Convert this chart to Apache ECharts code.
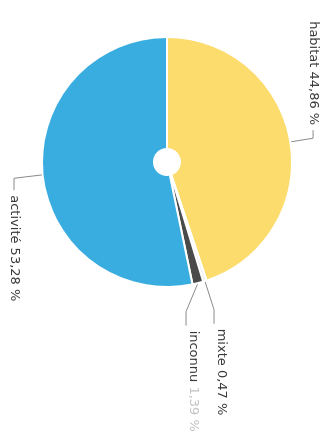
<!DOCTYPE html>
<html>
<head>
<meta charset="utf-8">
<script src="https://cdn.jsdelivr.net/npm/echarts@6/dist/echarts.min.js"></script>
<style>
  html, body { margin: 0; padding: 0; background: #fff; overflow: hidden; width: 334px; height: 442px; }
  /* the chart is laid out landscape and turned a quarter turn clockwise */
  #chart { position: absolute; left: 0; top: 0; width: 442px; height: 334px;
           transform-origin: 0 0; transform: translate(334px, 0) rotate(90deg); }
</style>
</head>
<body>
<div id="chart"></div>
<script>
// Share of floor area by use (%)
const categories = ['habitat', 'mixte', 'inconnu', 'activité'];
const shares = [44.86, 0.47, 1.39, 53.28];

// Styling per slice
const sliceColors = ['#fbdc6c', '#f2f2f2', '#4a4a4a', '#3aade0'];
const lineLengths = [[23, 8], [30, 14], [30, 14], [33, 12]];

const fmt = v => v.toFixed(2).replace('.', ',') + ' %';

const chart = echarts.init(document.getElementById('chart'), null, { renderer: 'canvas' });

chart.setOption({
  backgroundColor: '#ffffff',
  animation: false,
  series: [{
    type: 'pie',
    center: [162, 167],
    radius: [13, 125],
    startAngle: 180,
    clockwise: true,
    avoidLabelOverlap: true,
    itemStyle: { borderColor: '#ffffff', borderWidth: 2 },
    label: {
      show: true,
      position: 'outside',
      fontFamily: 'DejaVu Sans',
      fontSize: 13,
      color: '#3a3a3a',
      minMargin: 15,
      overflow: 'none',
      formatter: p => p.dataIndex === 2
        ? '{n|' + p.name + '} {v|' + fmt(p.value) + '}'
        : p.name + ' ' + fmt(p.value),
      rich: {
        n: { fontFamily: 'DejaVu Sans', fontSize: 13, color: '#3a3a3a' },
        v: { fontFamily: 'DejaVu Sans', fontSize: 13, color: '#c4c4c4' }
      }
    },
    labelLine: {
      show: true,
      lineStyle: { color: '#8a8a8a', width: 1 }
    },
    // lift the two small-slice labels a little above their default spot
    labelLayout: p => (p.dataIndex === 1 || p.dataIndex === 2) ? { dy: -7 } : {},
    data: categories.map((name, i) => ({
      name,
      value: shares[i],
      itemStyle: { color: sliceColors[i] },
      labelLine: { length: lineLengths[i][0], length2: lineLengths[i][1] }
    }))
  }]
});
</script>
</body>
</html>
